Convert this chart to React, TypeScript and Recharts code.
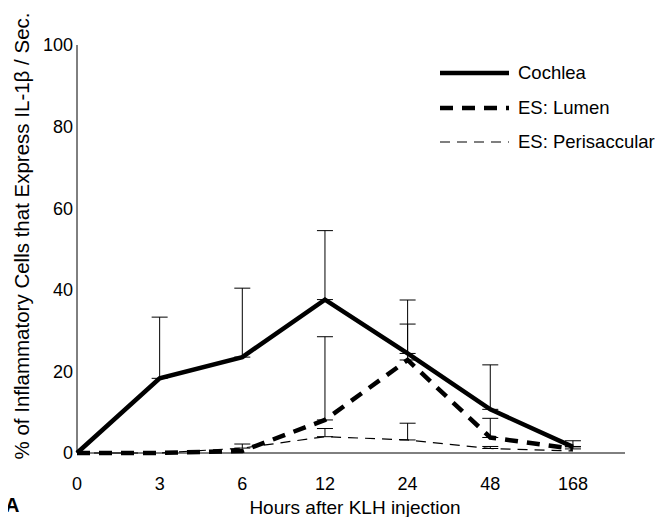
import React from "react";
import { LineChart, Line, XAxis, YAxis, ErrorBar } from "recharts";

const hours = ["0", "3", "6", "12", "24", "48", "168"];
const cochlea = [0, 18.3, 23.5, 37.6, 24.4, 10.7, 1.5];
const cochleaTop = [null, 33.3, 40.4, 54.5, 37.5, 21.6, 3.0];
const lumen = [0, 0, 0.5, 8.1, 22.8, 3.8, 1.0];
const lumenTop = [null, null, null, 28.5, 31.6, 8.5, 1.6];
const peri = [0, 0, 1.2, 4.0, 3.2, 1.1, 0.5];
const periTop = [null, null, 2.2, 6.0, 7.3, 1.6, null];
const yTicks = [0, 20, 40, 60, 80, 100];

// error bars only go upward: [below, above]
const up = (top: (number | null)[], vals: number[], i: number) =>
  top[i] == null ? null : [0, (top[i] as number) - vals[i]];

const data = hours.map((h, i) => ({
  x: i,
  cochlea: cochlea[i],
  cochleaErr: up(cochleaTop, cochlea, i),
  lumen: lumen[i],
  lumenErr: up(lumenTop, lumen, i),
  peri: peri[i],
  periErr: up(periTop, peri, i),
}));

const font = "'Liberation Sans', Arial, sans-serif";

const legendItems = [
  { name: "Cochlea", width: 4.5, dash: undefined },
  { name: "ES: Lumen", width: 4.5, dash: "13 9" },
  { name: "ES: Perisaccular", width: 1.2, dash: "10 7" },
];

function ChartLegend() {
  return (
    <div
      style={{
        position: "absolute",
        left: 432,
        top: 48,
        width: 230,
        fontFamily: font,
        fontSize: 18.5,
        color: "#000",
      }}
    >
      {legendItems.map((it) => (
        <div
          key={it.name}
          style={{ display: "flex", alignItems: "center", height: 34.5 }}
        >
          <svg width={78} height={10} style={{ flexShrink: 0 }}>
            <line
              x1={0}
              x2={69}
              y1={5}
              y2={5}
              stroke="#000"
              strokeWidth={it.width}
              strokeDasharray={it.dash}
            />
          </svg>
          <span style={{ whiteSpace: "nowrap" }}>{it.name}</span>
        </div>
      ))}
    </div>
  );
}

export default function App() {
  return (
    <div style={{ position: "relative", width: 658, height: 509, fontFamily: font }}>
      <LineChart
        width={658}
        height={509}
        data={data}
        margin={{ top: 37, right: 41, bottom: 0, left: 39 }}
      >
        <XAxis
          dataKey="x"
          type="number"
          domain={[0, 6.63]}
          ticks={[0, 1, 2, 3, 4, 5, 6]}
          tickFormatter={(v: number) => hours[v]}
          height={64}
          tickSize={0}
          tickMargin={24}
          stroke="#000"
          tick={{ fill: "#000", fontSize: 18, fontFamily: font }}
          label={{
            value: "Hours after KLH injection",
            position: "insideBottom",
            offset: 3,
            dx: 4,
            fill: "#000",
            fontSize: 19,
            fontFamily: font,
          }}
        />
        <YAxis
          domain={[0, 100]}
          ticks={yTicks}
          width={30}
          tickSize={0}
          tickMargin={4}
          stroke="#000"
          tick={{ fill: "#000", fontSize: 18, fontFamily: font }}
          label={() => (
            <text
              x={13.5}
              y={228}
              transform="rotate(-90 13.5 228)"
              textAnchor="middle"
              dominantBaseline="central"
              fill="#000"
              fontSize={20.5}
              fontFamily={font}
            >
              % of Inflammatory Cells that Express IL-1β / Sec.
            </text>
          )}
        />
        <Line
          dataKey="peri"
          stroke="#000"
          strokeWidth={1.2}
          strokeDasharray="10 7"
          dot={false}
          isAnimationActive={false}
        >
          <ErrorBar dataKey="periErr" direction="y" width={8} stroke="#000" strokeWidth={1} />
        </Line>
        <Line
          dataKey="lumen"
          stroke="#000"
          strokeWidth={4.5}
          strokeDasharray="13 9"
          dot={false}
          isAnimationActive={false}
        >
          <ErrorBar dataKey="lumenErr" direction="y" width={8} stroke="#000" strokeWidth={1} />
        </Line>
        <Line
          dataKey="cochlea"
          stroke="#000"
          strokeWidth={4.5}
          dot={false}
          isAnimationActive={false}
        >
          <ErrorBar dataKey="cochleaErr" direction="y" width={8} stroke="#000" strokeWidth={1} />
        </Line>
      </LineChart>
      <ChartLegend />
      <div
        style={{
          position: "absolute",
          left: -3,
          top: 487,
          fontSize: 20,
          lineHeight: 1,
          fontWeight: "bold",
          fontFamily: font,
        }}
      >
        A
      </div>
    </div>
  );
}
